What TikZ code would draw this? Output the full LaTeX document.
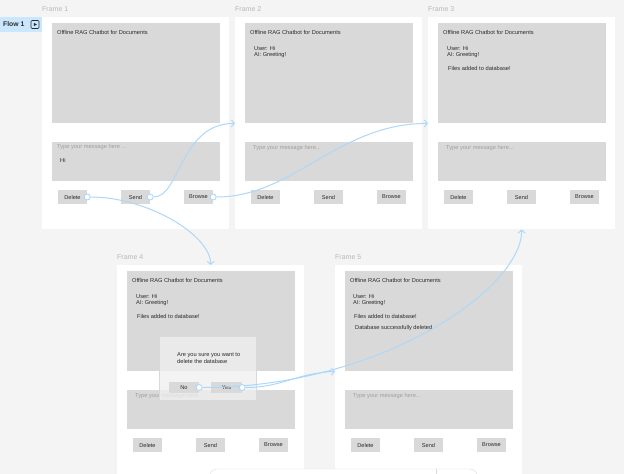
\documentclass[tikz,border=0pt]{standalone}
\usepackage{fontspec}
\setmainfont{Liberation Sans}
\usetikzlibrary{calc,arrows.meta}
\definecolor{canvas}{HTML}{F4F4F4}
\definecolor{boxgray}{HTML}{D9D9D9}
\definecolor{flowblue}{HTML}{ADD8FA}
\definecolor{tagblue}{HTML}{CBE7FD}
\definecolor{inkgray}{HTML}{2B2B2B}
\definecolor{hintgray}{HTML}{A0A0A0}
\definecolor{labelgray}{HTML}{B8B8B8}
\tikzset{%
  chat frame/.style={fill=white, anchor=north west, inner sep=0pt,
    minimum width=187pt, minimum height=212pt},
  chat area/.style={fill=boxgray, anchor=north west, inner sep=0pt,
    minimum width=168pt, minimum height=100pt},
  input area/.style={chat area, minimum height=39pt},
  button/.style={fill=boxgray, inner sep=0pt, minimum width=29pt, minimum height=14pt,
    font=\fontsize{5.6}{6}\selectfont, text=inkgray},
  msg/.style={anchor=west, inner sep=0pt, font=\fontsize{5.7}{7}\selectfont, text=inkgray},
  hint/.style={msg, text=hintgray},
  frame label/.style={anchor=west, inner sep=0pt, font=\fontsize{7}{8}\selectfont, text=labelgray},
  port/.style={circle, draw=flowblue, fill=white, line width=0.9pt, minimum size=6pt, inner sep=0pt},
  flow/.style={draw=flowblue, line width=1pt, -{Straight Barb[length=3pt,width=7pt]}},
}
% one screen: name, label, x, y (top left), extra contents
\newcommand{\ChatFrame}[5]{%
  \begin{scope}[shift={(#3,#4)}]
    \node[frame label] (#1-label) at (0,-8) {#2};
    \node[chat frame] (#1) at (0,0) {};
    \node[chat area] (#1-chat) at (10,6) {};
    \node[input area] (#1-input) at (10,125) {};
    \node[msg] (#1-title) at (15,15) {Offline RAG Chatbot for Documents};
    \node[button] (#1-del) at (30.5,180) {Delete};
    \node[button] (#1-send) at (93.5,180) {Send};
    \node[button] (#1-browse) at (156.5,180) {Browse};
    #5
  \end{scope}
}

\begin{document}
\begin{tikzpicture}[x=1pt,y=-1pt]
  \fill[canvas] (0,0) rectangle (624,474);
  \useasboundingbox (0,0) rectangle (624,474);
  % flow tag
  \node[fill=tagblue, anchor=north west, minimum width=42pt, minimum height=15pt,
    inner sep=0pt] (flow-tag) at (0,17) {};
  \node[anchor=west, inner sep=0pt, font=\bfseries\fontsize{6.8}{8}\selectfont,
    text=inkgray] (flow-name) at (3,24.5) {Flow 1};
  \draw[inkgray, line width=0.6pt, rounded corners=1pt] (31,20.5) rectangle (39,28.5);
  \fill[inkgray] (33.8,22.8) -- (36.8,24.5) -- (33.8,26.2) -- cycle;

  % screens
  \ChatFrame{f1}{Frame 1}{42}{17}{%
    \node[hint] (f1-hint) at (15,130) {Type your message here ...};
    \node[msg] (f1-typed) at (18,143) {Hi};
  }
  \ChatFrame{f2}{Frame 2}{235}{17}{%
    \node[hint] (f2-hint) at (18,131) {Type your message here...};
    \node[msg] (f2-user) at (19,31) {User: Hi};
    \node[msg] (f2-ai) at (19,38) {AI: Greeting!};
  }
  \ChatFrame{f3}{Frame 3}{428}{17}{%
    \node[hint] (f3-hint) at (18,131) {Type your message here...};
    \node[msg] (f3-user) at (19,31) {User: Hi};
    \node[msg] (f3-ai) at (19,38) {AI: Greeting!};
    \node[msg] (f3-files) at (20,51) {Files added to database!};
  }
  \ChatFrame{f4}{Frame 4}{117}{265}{%
    \node[hint] (f4-hint) at (18,131) {Type your message here...};
    \node[msg] (f4-user) at (19,31) {User: Hi};
    \node[msg] (f4-ai) at (19,38) {AI: Greeting!};
    \node[msg] (f4-files) at (20,51) {Files added to database!};
  }
  \ChatFrame{f5}{Frame 5}{335}{265}{%
    \node[hint] (f5-hint) at (18,131) {Type your message here...};
    \node[msg] (f5-user) at (18,31) {User: Hi};
    \node[msg] (f5-ai) at (18,38) {AI: Greeting!};
    \node[msg] (f5-files) at (19,51) {Files added to database!};
    \node[msg] (f5-gone) at (20,63) {Database successfully deleted};
  }

  % confirm dialog
  \node[fill=white!94!black, fill opacity=0.75, draw=boxgray, line width=0.5pt,
    anchor=north west, inner sep=0pt, minimum width=97pt, minimum height=64pt]
    (f4-dialog) at (159,336) {};
  \node[msg, anchor=north west, align=left] (f4-ask) at (177,352.5)
    {Are you sure you want to\\delete the database};
  \node[button, minimum width=30pt, minimum height=11pt] (f4-no) at (184,387.5) {No};
  \node[button, minimum width=31pt, minimum height=11pt] (f4-yes) at (226.5,387.5) {Yes};

  % bottom toolbar
  \draw[boxgray, fill=white, rounded corners=7pt] (210,469) rectangle (477,495);
  \draw[boxgray] (436,469) -- (436,474);

  % ports and connectors
  \node[port] (f1-del-p) at (f1-del.east) {};
  \node[port] (f1-send-p) at (f1-send.east) {};
  \node[port] (f1-browse-p) at (f1-browse.east) {};
  \node[port] (f4-no-p) at (f4-no.east) {};
  \coordinate (f2-in) at (f2-chat.south -| f2.west);
  \coordinate (f3-in) at (f3-chat.south -| f3.west);
  \coordinate (f5-in) at (f5-chat.south -| f5.west);
  \draw[flow] (f1-send-p) .. controls +(30,0) and +(-55,0) .. (f2-in);
  \draw[flow] (f1-browse-p) .. controls +(80,0) and +(-90,0) .. (f3-in);
  \draw[flow] (f1-del-p) .. controls +(60,0) and +(0,-30) .. (f4.north);
  \draw[flow] (f4-no-p) .. controls +(180,0) and +(0,60) .. (f3.south);
  \node[port] (f4-yes-p) at (f4-yes.east) {};
  \draw[flow] (f4-yes-p) .. controls +(40,0) and +(-40,2) .. (f5-in);
\end{tikzpicture}
\end{document}
